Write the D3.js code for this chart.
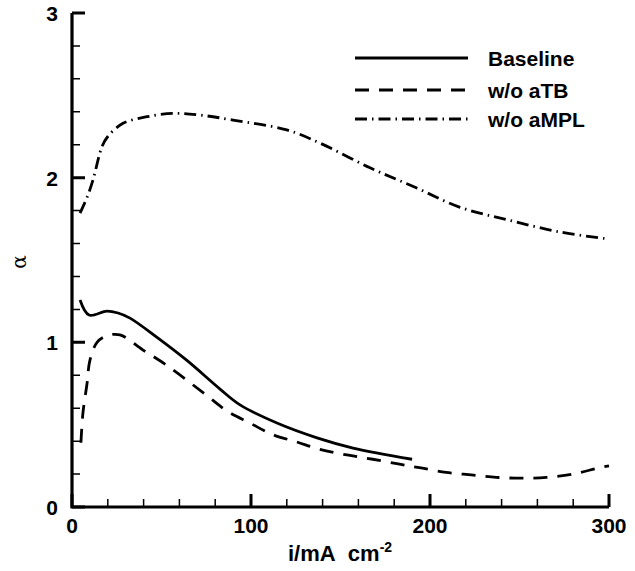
<!DOCTYPE html>
<html>
<head>
<meta charset="utf-8">
<script src="https://d3js.org/d3.v7.min.js"></script>
<style>
  body { margin: 0; background: #fff; }
  text { font-family: "Liberation Sans", Arial, sans-serif; font-weight: bold; fill: #000; }
</style>
</head>
<body>
<script>
// data: current density (mA cm-2) vs alpha
const baselineX = [4.5, 9.5, 19.5, 25.7, 32.4, 47.5, 64.2, 82.7, 93.9, 114.5, 136.9, 157, 190];
const baselineY = [1.257, 1.166, 1.19, 1.178, 1.147, 1.03, 0.89, 0.716, 0.62, 0.51, 0.42, 0.358, 0.29];

const noTBX = [5, 6.1, 8.4, 10, 14, 19.5, 26.8, 39.7, 53, 75, 87, 99.4, 112, 125.6, 138.5, 153.6, 168, 183, 195, 209, 223, 237, 251, 265, 280, 294, 300];
const noTBY = [0.39, 0.57, 0.75, 0.89, 1.0, 1.04, 1.045, 0.953, 0.86, 0.68, 0.58, 0.51, 0.44, 0.395, 0.35, 0.316, 0.29, 0.26, 0.237, 0.21, 0.195, 0.18, 0.175, 0.18, 0.2, 0.237, 0.25];

const noMPLX = [4.5, 8.4, 11.7, 16.8, 20, 28.5, 42, 56.4, 71.5, 90, 120, 138.5, 166.5, 192, 216.8, 244.7, 272.6, 298];
const noMPLY = [1.785, 1.88, 1.985, 2.19, 2.25, 2.33, 2.37, 2.39, 2.38, 2.35, 2.29, 2.21, 2.06, 1.94, 1.82, 1.74, 1.67, 1.63];

const seriesNames = ["Baseline", "w/o aTB", "w/o aMPL"];
const xMajor = [0, 100, 200, 300];
const yMajor = [0, 1, 2, 3];

const W = 635, H = 571;
const x = d3.scaleLinear().domain([0, 300]).range([72, 609]);
const y = d3.scaleLinear().domain([0, 3]).range([507, 13]);

const svg = d3.select("body").append("svg").attr("width", W).attr("height", H);

const series = [
  { name: seriesNames[0], xs: baselineX, ys: baselineY, dash: null },
  { name: seriesNames[1], xs: noTBX, ys: noTBY, dash: "14,10" },
  { name: seriesNames[2], xs: noMPLX, ys: noMPLY, dash: "12,5,1.5,5" }
];

const line = d3.line().x(d => x(d[0])).y(d => y(d[1])).curve(d3.curveCatmullRom);

series.forEach(s => {
  svg.append("path")
    .datum(s.xs.map((v, i) => [v, s.ys[i]]))
    .attr("d", line)
    .attr("fill", "none")
    .attr("stroke", "#000")
    .attr("stroke-width", 2.8)
    .attr("stroke-dasharray", s.dash);
});

// ticks point inward, minor every 20 / 0.2
const isMajor = (list, d) => list.some(m => Math.abs(m - d) < 1e-6);
const xMinor = x.ticks(15).filter(d => !isMajor(xMajor, d));
const yMinor = y.ticks(15).filter(d => !isMajor(yMajor, d));

svg.append("path")
  .attr("d", xMinor.map(d => `M${x(d)},${y(0)}v-8`).join("") + yMinor.map(d => `M${x(0)},${y(d)}h8`).join(""))
  .attr("stroke", "#000").attr("stroke-width", 1.5).attr("fill", "none");
svg.append("path")
  .attr("d", xMajor.map(d => `M${x(d)},${y(0)}v-13`).join("") + yMajor.map(d => `M${x(0)},${y(d)}h13`).join(""))
  .attr("stroke", "#000").attr("stroke-width", 3).attr("fill", "none");

svg.append("path")
  .attr("d", `M${x(0)},${y(3)}V${y(0)}H${x(300)}`)
  .attr("fill", "none").attr("stroke", "#000").attr("stroke-width", 3.2);

svg.selectAll(".xl").data(xMajor).join("text")
  .attr("x", d => x(d)).attr("y", 533)
  .attr("text-anchor", "middle").attr("font-size", 21)
  .text(d => d);

svg.selectAll(".yl").data(yMajor).join("text")
  .attr("x", 58).attr("y", d => y(d) + 8)
  .attr("text-anchor", "end").attr("font-size", 21)
  .text(d => d);

svg.append("text")
  .attr("x", 340).attr("y", 561).attr("text-anchor", "middle").attr("font-size", 22)
  .html('i/mA&#160;&#160;cm<tspan dy="-9" font-size="14">-2</tspan>');

svg.append("text")
  .attr("transform", "translate(26,262) rotate(-90)")
  .attr("text-anchor", "middle")
  .style("font-family", "'DejaVu Serif', serif").style("font-weight", "normal")
  .attr("font-size", 20)
  .text("α");

// legend
const legY = [58, 90, 119];
series.forEach((s, i) => {
  svg.append("line")
    .attr("x1", 355).attr("x2", 468).attr("y1", legY[i]).attr("y2", legY[i])
    .attr("stroke", "#000").attr("stroke-width", 2.8)
    .attr("stroke-dasharray", s.dash);
  svg.append("text")
    .attr("x", 488).attr("y", legY[i] + 8).attr("font-size", 21)
    .text(s.name);
});
</script>
</body>
</html>
